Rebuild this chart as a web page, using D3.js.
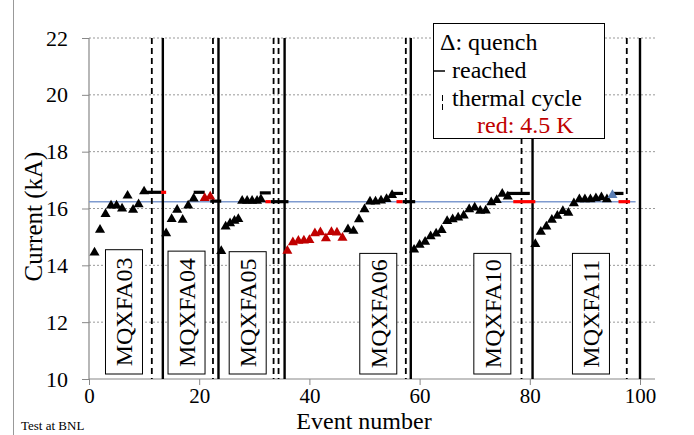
<!DOCTYPE html>
<html>
<head>
<meta charset="utf-8">
<script src="https://cdn.jsdelivr.net/npm/d3@7"></script>
<style>
  html, body { margin: 0; padding: 0; background: #fff; }
  svg text { font-family: "Liberation Serif", "DejaVu Serif", serif; }
</style>
</head>
<body>
<div id="chart"></div>
<script>
// quench events: [event number, current in kA]
const quenchBlack = [
    [1, 14.45], [2, 15.25], [3, 15.8], [4, 16.1], [5, 16.1], [6, 16.0], [7, 16.45], [8, 15.95], [9, 16.15], [10, 16.6],
    [14, 15.13], [15, 15.63], [16, 15.95], [17, 15.6], [18, 16.1], [19, 16.35],
    [24, 14.5], [24.8, 15.36], [25.6, 15.48], [26.4, 15.57], [27.1, 15.63],
    [27.8, 16.27], [28.7, 16.27], [29.6, 16.27], [30.5, 16.27], [31.2, 16.32],
    [47, 15.27], [48, 15.21], [49, 15.62], [50, 15.97], [51, 16.24], [52, 16.24], [53, 16.28], [54, 16.33], [55, 16.47],
    [59, 14.55], [60, 14.72], [61, 14.83], [62, 15.02], [63, 15.12], [64, 15.24], [65, 15.56], [66, 15.62], [67, 15.68],
    [68, 15.75], [69, 15.97], [70, 16.03], [71, 15.92], [72, 15.93], [73, 16.22], [74, 16.3], [75, 16.52], [76, 16.42],
    [81, 14.75], [82, 15.18], [83, 15.36], [84, 15.6], [85, 15.74], [86, 15.91], [87, 15.85], [88, 16.18],
    [89, 16.32], [90, 16.32], [91, 16.32], [92, 16.36], [93, 16.39], [94, 16.32]
];
const quenchRed = [
    [21, 16.37], [22, 16.42],
    [36, 14.51], [37, 14.81], [38, 14.86], [39, 14.87], [40, 14.89], [41, 15.13], [42, 15.16],
    [43, 14.95], [44, 15.17], [45, 15.15], [46, 14.97]
];
const quenchBlue = [[95, 16.47]];

// "reached" plateaus: [from event, to event, current kA]
const reachedBlack = [
    [10, 13.1, 16.57], [19, 21, 16.57], [22, 24, 16.26], [31, 33, 16.55], [33, 36.2, 16.24],
    [55.2, 57, 16.53], [56.9, 59.2, 16.24], [75.8, 80, 16.53], [95.2, 97, 16.53]
];
const reachedRed = [
    [13.1, 14, 16.57], [32, 33, 16.24], [55.8, 56.9, 16.24], [77, 81, 16.24], [96.1, 98.2, 16.24]
];

const nominalCurrent = 16.24;
const nominalRange = [0, 99.2];

const thermalCycles = [11.4, 22.5, 33.5, 34.4, 57.5, 78.5, 97.6];
const magnetChanges = [13.4, 23.5, 35.5, 58.4, 80.5, 100];

const magnets = ['MQXFA03', 'MQXFA04', 'MQXFA05', 'MQXFA06', 'MQXFA10', 'MQXFA11'];
const magnetLabelEvents = [6.35, 17.7, 28.8, 52.5, 73.2, 91.1];
const magnetLabelTops = [14.55, 14.5, 14.48, 14.42, 14.42, 14.42];

const yTicks = [10, 12, 14, 16, 18, 20, 22];
const xTicks = [0, 20, 40, 60, 80, 100];

const legendLines = ['\u0394: quench', 'reached', 'thermal cycle', 'red: 4.5 K'];

const width = 694, height = 435;

const svg = d3.select('#chart')
    .append('svg')
    .attr('width', width)
    .attr('height', height);

const x = d3.scaleLinear().domain([0, 100]).range([89, 640]);
const y = d3.scaleLinear().domain([10, 22]).range([379, 38]);

// gridlines
svg.append('g')
    .selectAll('line')
    .data(yTicks.filter(d => d > 10))
    .join('line')
    .attr('x1', x(0))
    .attr('x2', 655)
    .attr('y1', d => y(d))
    .attr('y2', d => y(d))
    .attr('stroke', '#999')
    .attr('stroke-width', 1)
    .attr('stroke-dasharray', '2,2');

// axes
const yAxis = svg.append('g')
    .attr('transform', `translate(${x(0)},0)`)
    .call(d3.axisLeft(y).tickValues(yTicks).tickSize(7).tickPadding(14).tickFormat(d3.format('d')));
const xAxis = svg.append('g')
    .attr('transform', `translate(0,${y(10)})`)
    .call(d3.axisBottom(x).tickValues(xTicks).tickSize(6).tickPadding(3).tickFormat(d3.format('d')));
[yAxis, xAxis].forEach(ax => {
    ax.selectAll('.tick line').attr('stroke', '#888');
    ax.selectAll('.tick text')
        .attr('fill', '#000')
        .style('font-family', '"Liberation Serif", serif')
        .style('font-size', '22px');
});
xAxis.selectAll('.tick text').style('font-size', '21px');
xAxis.select('.domain').attr('d', `M${x(0)},0H655`).attr('stroke', '#888').attr('stroke-width', 1.2);
yAxis.select('.domain').attr('d', `M0,${y(10)}V${y(22)}`).attr('stroke', '#888').attr('stroke-width', 1.2);

// nominal current line
svg.append('line')
    .attr('x1', x(nominalRange[0]))
    .attr('x2', x(nominalRange[1]))
    .attr('y1', y(nominalCurrent))
    .attr('y2', y(nominalCurrent))
    .attr('stroke', '#7f9bd0')
    .attr('stroke-width', 1.5);

// thermal cycles and magnet changes
svg.append('g')
    .selectAll('line')
    .data(thermalCycles)
    .join('line')
    .attr('x1', d => x(d))
    .attr('x2', d => x(d))
    .attr('y1', y(22))
    .attr('y2', y(10))
    .attr('stroke', '#000')
    .attr('stroke-width', 1.8)
    .attr('stroke-dasharray', '6,4');

svg.append('g')
    .selectAll('line')
    .data(magnetChanges)
    .join('line')
    .attr('x1', d => x(d))
    .attr('x2', d => x(d))
    .attr('y1', y(22))
    .attr('y2', y(10))
    .attr('stroke', '#000')
    .attr('stroke-width', 2.4);

// reached plateaus
const drawSegs = (data, color) => {
    svg.append('g')
        .selectAll('line')
        .data(data)
        .join('line')
        .attr('x1', d => x(d[0]))
        .attr('x2', d => x(d[1]))
        .attr('y1', d => y(d[2]))
        .attr('y2', d => y(d[2]))
        .attr('stroke', color)
        .attr('stroke-width', 3.2);
};
drawSegs(reachedBlack, '#000');
drawSegs(reachedRed, '#ff0000');

// magnet labels
const labelW = 37, labelBottom = 374;
const labels = svg.append('g')
    .selectAll('g')
    .data(magnets)
    .join('g');
labels.append('rect')
    .attr('x', (d, i) => x(magnetLabelEvents[i]) - labelW / 2)
    .attr('y', (d, i) => y(magnetLabelTops[i]))
    .attr('width', labelW)
    .attr('height', (d, i) => labelBottom - y(magnetLabelTops[i]))
    .attr('fill', '#fff')
    .attr('stroke', '#000')
    .attr('stroke-width', 1);
labels.append('text')
    .attr('transform', (d, i) => {
        const cx = x(magnetLabelEvents[i]);
        const cy = (y(magnetLabelTops[i]) + labelBottom) / 2;
        return `translate(${cx},${cy}) rotate(-90)`;
    })
    .attr('text-anchor', 'middle')
    .attr('dy', '0.35em')
    .style('font-size', '24px')
    .text(d => d);

// quench markers
const tri = d3.symbol().type(d3.symbolTriangle).size(44);
const drawQuench = (data, color) => {
    svg.append('g')
        .selectAll('path')
        .data(data)
        .join('path')
        .attr('d', tri)
        .attr('transform', d => `translate(${x(d[0])},${y(d[1])})`)
        .attr('fill', color);
};
drawQuench(quenchBlack, '#000');
drawQuench(quenchRed, '#c00000');
drawQuench(quenchBlue, '#5b7fb5');

// legend
const legend = svg.append('g');
legend.append('rect')
    .attr('x', 433.5)
    .attr('y', 23.5)
    .attr('width', 171)
    .attr('height', 115)
    .attr('fill', '#fff')
    .attr('stroke', '#000')
    .attr('stroke-width', 1);
legend.selectAll('text')
    .data(legendLines)
    .join('text')
    .attr('x', (d, i) => i === 3 ? 477 : (i === 0 ? 440 : 452))
    .attr('y', (d, i) => 50 + i * 27.8)
    .attr('fill', (d, i) => i === 3 ? '#c00000' : '#000')
    .style('font-size', '24px')
    .text(d => d);
legend.append('line')
    .attr('x1', 434).attr('x2', 445)
    .attr('y1', 71).attr('y2', 71)
    .attr('stroke', '#000').attr('stroke-width', 1.5);
legend.append('line')
    .attr('x1', 442.5).attr('x2', 442.5)
    .attr('y1', 95).attr('y2', 112)
    .attr('stroke', '#000').attr('stroke-width', 1)
    .attr('stroke-dasharray', '6,3');

// axis titles
svg.append('text')
    .attr('transform', `translate(42,${y(16) + 8}) rotate(-90)`)
    .attr('text-anchor', 'middle')
    .style('font-size', '25px')
    .text('Current (kA)');
svg.append('text')
    .attr('x', 364)
    .attr('y', 429)
    .attr('text-anchor', 'middle')
    .style('font-size', '24px')
    .text('Event number');
svg.append('text')
    .attr('x', 21)
    .attr('y', 430)
    .style('font-size', '13px')
    .text('Test at BNL');

// chart border
svg.append('line')
    .attr('x1', 13.5).attr('x2', 13.5)
    .attr('y1', 0).attr('y2', height)
    .attr('stroke', '#999');
</script>
</body>
</html>
